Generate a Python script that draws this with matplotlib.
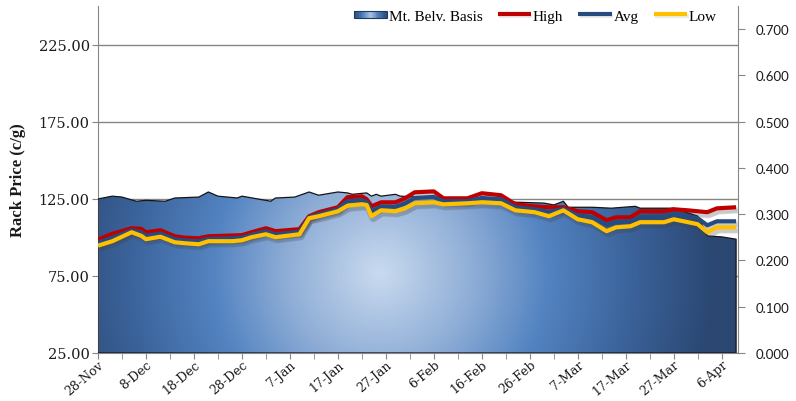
import numpy as np
import pandas as pd
import matplotlib
matplotlib.use("Agg")
import matplotlib.pyplot as plt
import matplotlib.dates as mdates
import matplotlib.ticker as mticker
import matplotlib.patheffects as pe
import matplotlib.transforms as mtransforms
from matplotlib.colors import LinearSegmentedColormap
from matplotlib.legend_handler import HandlerBase
from matplotlib.patches import Rectangle

# ---------------- data ----------------
start_date = "2011-11-28"
end_offset = 133.4

line_days = [0, 3, 7, 9, 10, 13, 16, 18, 21, 23, 28, 30, 32, 35, 37, 42, 44, 46, 50, 52,
             55, 56, 57, 59, 62, 64, 66, 70, 72, 77, 80, 84, 87, 91, 94, 97, 100, 103, 106,
             108, 111, 113, 118, 120, 123, 125, 127, 129, 133]
high = [98.5, 102.3, 105.9, 105.5, 103.3, 104.6, 100.7, 99.8, 99.4, 100.7, 101.2, 101.4, 103.3,
        105.9, 104.0, 105.3, 113.7, 116.3, 119.5, 126.0, 126.6, 124.7, 120.1, 122.7, 122.7,
        125.3, 129.2, 129.8, 125.3, 125.3, 128.6, 127.3, 121.4, 120.1, 119.5, 119.5, 116.9,
        116.3, 111.1, 113.0, 113.0, 116.9, 116.9, 118.2, 117.5, 116.9, 116.3, 118.8, 119.5]
avg = [96.5, 99.8, 104.5, 103.3, 101.0, 102.5, 98.8, 98.0, 97.5, 99.0, 99.4, 99.8, 101.7,
       104.0, 102.0, 103.7, 113.0, 115.0, 118.2, 123.5, 124.0, 123.0, 117.0, 120.0, 119.8,
       122.0, 125.5, 126.2, 123.4, 123.5, 125.5, 124.7, 119.5, 118.2, 116.5, 118.5, 114.3,
       113.0, 108.2, 109.8, 110.4, 113.0, 113.0, 114.3, 113.5, 112.4, 107.8, 110.4, 110.4]
low = [94.6, 97.5, 103.3, 101.0, 98.8, 100.4, 96.8, 96.2, 95.5, 97.5, 97.5, 98.1, 100.1,
       102.0, 100.1, 102.0, 112.4, 113.7, 116.9, 120.5, 121.4, 121.0, 113.7, 117.5, 116.9,
       118.8, 122.1, 122.7, 121.4, 122.1, 122.7, 122.1, 117.5, 116.3, 113.7, 117.5, 111.7,
       109.8, 104.0, 106.5, 107.2, 109.8, 109.8, 111.7, 109.8, 108.5, 103.3, 106.5, 106.5]

basis_days = [0, 3, 5, 8, 10, 14, 16, 21, 23, 25, 29, 30, 36, 37, 41, 44, 46, 50, 52, 53,
              56, 57, 58, 59, 62, 63, 67, 71, 77, 84, 87, 93, 95, 97, 98, 103, 107, 112, 113,
              120, 125, 126, 127, 130, 133]
basis = [0.333, 0.339, 0.337, 0.328, 0.330, 0.328, 0.335, 0.337, 0.348, 0.339, 0.335, 0.339,
         0.328, 0.335, 0.337, 0.348, 0.341, 0.348, 0.346, 0.343, 0.346, 0.339, 0.343, 0.339,
         0.343, 0.339, 0.337, 0.333, 0.333, 0.333, 0.326, 0.324, 0.320, 0.328, 0.315, 0.315,
         0.313, 0.317, 0.313, 0.313, 0.296, 0.275, 0.253, 0.251, 0.246]

left_ticks = [25, 75, 125, 175, 225]
left_lim = (25, 250)
right_ticks = [0.0, 0.1, 0.2, 0.3, 0.4, 0.5, 0.6, 0.7]
right_lim = (0.0, 0.75)

series_names = ["Mt. Belv. Basis", "High", "Avg", "Low"]
y_label = "Rack Price (c/g)"

# ---------------- style ----------------
C_HIGH = "#c00000"
C_AVG = "#264b80"
C_LOW = "#ffc000"
C_AX = "#868686"

start = pd.Timestamp(start_date)
line_dates = start + pd.to_timedelta(line_days, unit="D")
basis_dates = start + pd.to_timedelta(basis_days, unit="D")

grad_cmap = LinearSegmentedColormap.from_list(
    "grad",
    [(0.0, "#c9daef"), (0.28, "#8eadd6"), (0.5, "#5383c1"), (0.75, "#3b639b"), (1.0, "#2b4772")])

fig = plt.figure(figsize=(7.96, 4.02), dpi=100)
ax = fig.add_axes([98 / 796, 48 / 402, 640 / 796, 347 / 402])
ax2 = ax.twinx()

# area (right-axis units) drawn on the primary axes so the lines sit on top
poly = ax.fill_between(basis_dates, 0, basis, transform=ax2.transData,
                       facecolor="none", edgecolor="#151515", linewidth=0.9, zorder=3)

lw = 3.0
shadow = [pe.SimpleLineShadow(offset=(1.0, -2.0), shadow_color="#404040", alpha=0.16,
                              linewidth=lw + 2.0),
          pe.SimpleLineShadow(offset=(1.5, -2.5), shadow_color="#404040", alpha=0.14),
          pe.Normal()]
lh, = ax.plot(line_dates, high, color=C_HIGH, lw=lw, zorder=4, path_effects=shadow,
              solid_joinstyle="round", solid_capstyle="butt", label=series_names[1])
la, = ax.plot(line_dates, avg, color=C_AVG, lw=lw, zorder=5, path_effects=shadow,
              solid_joinstyle="round", solid_capstyle="butt", label=series_names[2])
ll, = ax.plot(line_dates, low, color=C_LOW, lw=lw, zorder=6, path_effects=shadow,
              solid_joinstyle="round", solid_capstyle="butt", label=series_names[3])

# radial gradient fill clipped to the area polygon
ny, nx = 350, 640
U, V = np.meshgrid(np.linspace(0, 1, nx), np.linspace(0, 1, ny))
d = np.sqrt(((U - 0.44) * 640 / 335) ** 2 + ((V - 0.23) * 347 / 335) ** 2)
img = grad_cmap(np.clip(d, 0, 1))
im = ax.imshow(img, extent=[0, 1, 0, 1], transform=ax.transAxes, origin="lower",
               aspect="auto", zorder=2, interpolation="bilinear")
im.set_clip_path(poly.get_paths()[0], poly.get_transform())

# ---------------- axes ----------------
ax.set_xlim(start, start + pd.Timedelta(days=end_offset))
ax.set_ylim(*left_lim)
ax2.set_ylim(*right_lim)

ax.set_yticks(left_ticks)
ax.yaxis.set_major_formatter(mticker.FormatStrFormatter("%.2f"))
ax2.set_yticks(right_ticks)
ax2.yaxis.set_major_formatter(mticker.FormatStrFormatter("%.3f"))

major = pd.date_range(start, periods=14, freq="10D")
minor = pd.date_range(start, periods=28, freq="5D")
ax.xaxis.set_major_locator(mticker.FixedLocator(mdates.date2num(major)))
ax.xaxis.set_minor_locator(mticker.FixedLocator(mdates.date2num(minor)))
ax.xaxis.set_major_formatter(mdates.DateFormatter("%-d-%b"))

ax.grid(axis="y", color=C_AX, lw=1.0)
ax.set_axisbelow(True)

for s in ["top", "right"]:
    ax.spines[s].set_visible(False)
for s in ["top", "left", "bottom"]:
    ax2.spines[s].set_visible(False)
for s in ["left", "bottom"]:
    ax.spines[s].set_color(C_AX)
ax2.spines["right"].set_color(C_AX)

ax.tick_params(axis="y", direction="out", length=4, color=C_AX, labelsize=10.5, pad=2,
               labelfontfamily="DejaVu Serif", labelcolor="#1a1a1a")
ax.tick_params(axis="x", which="both", direction="out", length=4, color=C_AX, labelsize=9,
               pad=3, labelfontfamily="DejaVu Serif", labelcolor="#1a1a1a", labelrotation=40)
ax2.tick_params(axis="y", direction="out", length=5, color=C_AX, labelsize=9.5, pad=8,
                labelfontfamily="Lato", labelcolor="#1a1a1a")

offset = mtransforms.ScaledTranslation(4 / 100, 0, fig.dpi_scale_trans)
for lbl in ax.get_xticklabels():
    lbl.set_ha("right")
    lbl.set_rotation_mode("anchor")
    lbl.set_va("center")
    lbl.set_transform(lbl.get_transform() + offset)

ax.set_ylabel(y_label, fontfamily="Liberation Serif", fontweight="bold", fontsize=12,
              color="#1a1a1a")
ax.yaxis.set_label_coords(-(98 - 26) / 640, 0.5)


# ---------------- legend ----------------
class GradientHandler(HandlerBase):
    def create_artists(self, legend, orig_handle, xdescent, ydescent, width, height,
                       fontsize, trans):
        n = 24
        h = height * 0.7
        y0 = -ydescent + (height - h) / 2
        arts = []
        for i in range(n):
            t = abs((i + 0.5) / n - 0.5) * 2
            arts.append(Rectangle((-xdescent + i * width / n, y0), width / n * 1.08, h,
                                  facecolor=grad_cmap(0.15 + 0.85 * t), edgecolor="none",
                                  transform=trans))
        arts.append(Rectangle((-xdescent, y0), width, h, facecolor="none",
                              edgecolor="#1f3a60", lw=0.8, transform=trans))
        return arts


proxy = Rectangle((0, 0), 1, 1, label=series_names[0])
leg = ax.legend([proxy, lh, la, ll], series_names, ncol=4, loc="upper right",
                bbox_to_anchor=(0.972, 1.0), frameon=False, handlelength=2.2,
                handletextpad=0.1, columnspacing=1.0, borderaxespad=0.0, borderpad=0.2,
                prop={"family": "Liberation Serif", "size": 11},
                handler_map={proxy: GradientHandler()})
leg.set_zorder(10)
soft = [pe.SimpleLineShadow(offset=(0.8, -1.2), shadow_color="#606060", alpha=0.12),
        pe.Normal()]
for h in leg.legend_handles:
    if hasattr(h, "set_path_effects") and h.__class__.__name__ == "Line2D":
        h.set_path_effects(soft)

fig.savefig("out.png", dpi=100, facecolor="white")
